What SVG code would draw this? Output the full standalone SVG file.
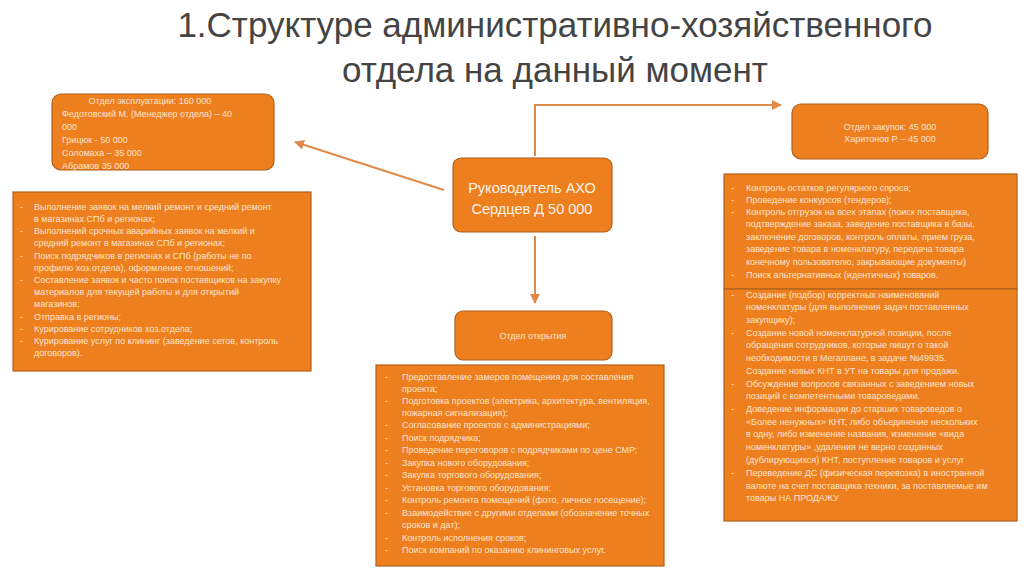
<svg xmlns="http://www.w3.org/2000/svg" width="1024" height="574" viewBox="0 0 1024 574">
<style>
.box{fill:#EE7F1E;stroke:#B0601E;stroke-width:1.2}
.t{font-family:"Liberation Sans",Arial,sans-serif;fill:#FCE4CF;font-size:9px}
.h{font-family:"Liberation Sans",Arial,sans-serif;fill:#FFF3E8;font-size:14.5px}
.title{font-family:"Liberation Sans",Arial,sans-serif;fill:#444;font-size:35px}
.con{stroke:#E08A4A;stroke-width:2;fill:none}
</style>
<defs><marker id="ah" viewBox="0 0 10 10" refX="9" refY="5" markerWidth="5" markerHeight="5" orient="auto"><path d="M0,0L10,5L0,10z" fill="#E08A4A"/></marker></defs>
<rect width="1024" height="574" fill="#fff"/>
<text class="title" x="555" y="37" text-anchor="middle">1.Структуре административно-хозяйственного</text>
<text class="title" x="555" y="82" text-anchor="middle">отдела на данный момент</text>
<g id="connectors">
<path class="con" d="M444,190L295,142" marker-end="url(#ah)"/>
<path class="con" d="M535,156V105H781" marker-end="url(#ah)"/>
<path class="con" d="M535,236V303" marker-end="url(#ah)"/>
</g>
<g id="head"><rect class="box" x="453" y="158" width="159" height="74" rx="8"/>
<text class="h" x="532" y="193" text-anchor="middle">Руководитель АХО</text>
<text class="h" x="532" y="214" text-anchor="middle">Сердцев Д  50 000</text></g>
<g id="expl"><rect class="box" x="52" y="94" width="222" height="76" rx="9"/>
<text class="t" x="150" y="104" text-anchor="middle">Отдел эксплуатации: 160 000</text>
<text class="t" x="62" y="117">Федотовский М. (Менеджер отдела) – 40</text>
<text class="t" x="62" y="130">000</text>
<text class="t" x="62" y="143">Грицюк - 50 000</text>
<text class="t" x="62" y="156">Соломаха – 35 000</text>
<text class="t" x="62" y="169">Абрамов 35 000</text></g>
<g id="expl-list"><rect class="box" x="13" y="192" width="298" height="179"/>
<g class="t">
<text x="20" y="210">-</text><text x="34" y="210">Выполнение заявок на мелкий ремонт и средний ремонт</text>
<text x="34" y="222">в магазинах СПб и регионах;</text>
<text x="20" y="234">-</text><text x="34" y="234">Выполнений срочных аварийных заявок на мелкий и</text>
<text x="34" y="246">средний ремонт в магазинах СПб и регионах;</text>
<text x="20" y="259">-</text><text x="34" y="259">Поиск подрядчиков в регионах и СПб (работы не по</text>
<text x="34" y="271">профилю хоз.отдела), оформление отношений;</text>
<text x="20" y="283">-</text><text x="34" y="283">Составление заявок и часто поиск поставщиков на закупку</text>
<text x="34" y="295">материалов для текущей работы и для открытий</text>
<text x="34" y="307">магазинов;</text>
<text x="20" y="320">-</text><text x="34" y="320">Отправка в регионы;</text>
<text x="20" y="332">-</text><text x="34" y="332">Курирование сотрудников хоз.отдела;</text>
<text x="20" y="344">-</text><text x="34" y="344">Курирование услуг по клининг (заведение сетов, контроль</text>
<text x="34" y="356">договоров).</text></g></g>
<g id="open"><rect class="box" x="455" y="311" width="157" height="49" rx="8"/>
<text class="t" x="533" y="339" text-anchor="middle">Отдел открытия</text></g>
<g id="open-list"><rect class="box" x="376" y="365" width="288" height="201"/>
<g class="t">
<text x="385" y="380">-</text><text x="402" y="380">Предоставление замеров помещения для составления</text>
<text x="402" y="392">проекта;</text>
<text x="385" y="404">-</text><text x="402" y="404">Подготовка проектов (электрика, архитектура, вентиляция,</text>
<text x="402" y="416">пожарная сигнализация);</text>
<text x="385" y="428">-</text><text x="402" y="428">Согласование проектов с администрациями;</text>
<text x="385" y="441">-</text><text x="402" y="441">Поиск подрядчика;</text>
<text x="385" y="453">-</text><text x="402" y="453">Проведение переговоров с подрядчиками по цене СМР;</text>
<text x="385" y="466">-</text><text x="402" y="466">Закупка нового оборудования;</text>
<text x="385" y="478">-</text><text x="402" y="478">Закупка торгового оборудования;</text>
<text x="385" y="491">-</text><text x="402" y="491">Установка торгового оборудования;</text>
<text x="385" y="503">-</text><text x="402" y="503">Контроль ремонта помещений (фото, личное посещение);</text>
<text x="385" y="516">-</text><text x="402" y="516">Взаимодействие с другими отделами (обозначение точных</text>
<text x="402" y="528">сроков и дат);</text>
<text x="385" y="541">-</text><text x="402" y="541">Контроль исполнения сроков;</text>
<text x="385" y="553">-</text><text x="402" y="553">Поиск компаний по оказанию клининговых услуг.</text></g></g>
<g id="purchase"><rect class="box" x="792" y="104" width="196" height="55" rx="9"/>
<text class="t" x="890" y="130" text-anchor="middle">Отдел закупок: 45 000</text>
<text class="t" x="890" y="142" text-anchor="middle">Харитонов Р. – 45 000</text></g>
<g id="purchase-list1"><rect class="box" x="724" y="174" width="293" height="115"/>
<g class="t">
<text x="731" y="191">-</text><text x="746" y="191">Контроль остатков регулярного спроса;</text>
<text x="731" y="203">-</text><text x="746" y="203">Проведение конкурсов (тендеров);</text>
<text x="731" y="215">-</text><text x="746" y="215">Контроль отгрузок на всех этапах (поиск поставщика,</text>
<text x="746" y="227">подтверждение заказа, заведение поставщика в базы,</text>
<text x="746" y="240">заключение договоров, контроль оплаты, прием груза,</text>
<text x="746" y="252">заведение товара в номенклатуру, передача товара</text>
<text x="746" y="265">конечному пользователю, закрывающие документы)</text>
<text x="731" y="278">-</text><text x="746" y="278">Поиск альтернативных (идентичных) товаров.</text></g></g>
<g id="purchase-list2"><rect class="box" x="724" y="289" width="293" height="232"/>
<g class="t">
<text x="731" y="298">-</text><text x="746" y="298">Создание (подбор) корректных наименований</text>
<text x="746" y="310">номенклатуры (для выполнения задач поставленных</text>
<text x="746" y="323">закупщику);</text>
<text x="731" y="336">-</text><text x="746" y="336">Создание новой номенклатурной позиции, после</text>
<text x="746" y="348">обращения сотрудников, которые пишут о такой</text>
<text x="746" y="361">необходимости в Мегаплане, в задаче №49935.</text>
<text x="746" y="374">Создание новых КНТ в УТ на товары для продажи.</text>
<text x="731" y="387">-</text><text x="746" y="387">Обсуждение вопросов связанных с заведением новых</text>
<text x="746" y="399">позиций с компетентными товароведами.</text>
<text x="731" y="412">-</text><text x="746" y="412">Доведение информации до старших товароведов о</text>
<text x="746" y="425">«Более ненужных» КНТ, либо объединение нескольких</text>
<text x="746" y="437">в одну, либо изменение названия, изменение «вида</text>
<text x="746" y="450">номенклатуры» ,удаления не верно созданных</text>
<text x="746" y="463">(дублирующихся) КНТ, поступление товаров и услуг</text>
<text x="731" y="476">-</text><text x="746" y="476">Переведение ДС (физическая перевозка) в иностранной</text>
<text x="746" y="489">валюте на счет поставщика техники, за поставляемые им</text>
<text x="746" y="501">товары НА ПРОДАЖУ</text></g></g>
</svg>
